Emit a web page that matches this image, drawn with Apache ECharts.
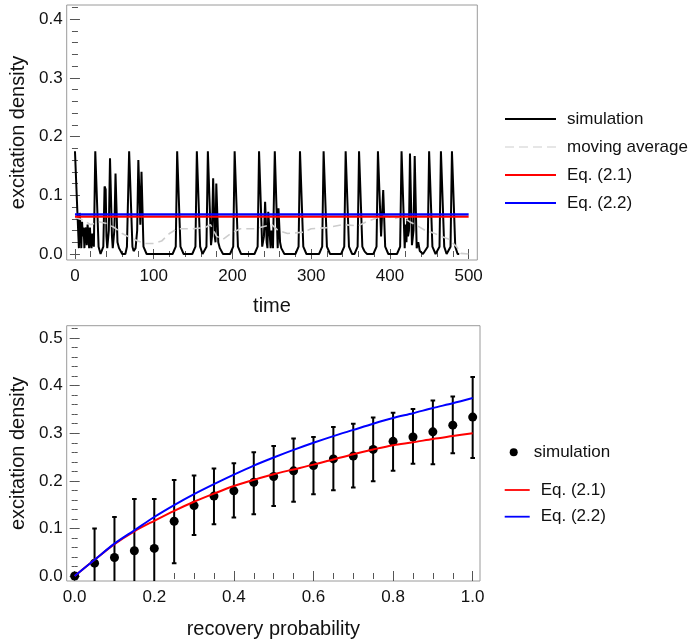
<!DOCTYPE html>
<html>
<head>
<meta charset="utf-8">
<script src="https://cdn.jsdelivr.net/npm/echarts@6/dist/echarts.min.js"></script>
<style>
  body { margin: 0; background: #fff; }
  #main { width: 693px; height: 640px; }
</style>
</head>
<body>
<div id="main"></div>
<script>
// ---- top chart: excitation density over time ----
// simulation trace, [time, density]
var simTrace = [
  [0,0.175],[1.8,0.175],[2.8,0.08],[4,0.08],[5,0.01],[6,0.07],[7,0.045],[8,0.01],[9,0.055],[10,0.03],
  [11,0.045],[12,0.01],[13,0.04],[14,0.045],[15,0.015],[16,0.05],[17,0.035],[18,0.01],[19,0.045],
  [20,0.02],[21,0.01],[22,0.035],[23,0.02],[24,0.0125],[25.8,0.175],[28.2,0.175],[30,0.0125],[32.5,0],[34,0],
  [36,0.0125],[37.6,0.115],[39,0.11],[40,0.03],[41,0.01],[43,0.04],[44.5,0.163],[45.5,0.163],[47,0.03],[48,0.01],
  [50,0.04],[51.5,0.137],[52.5,0.137],[54,0.02],[56,0.01],[60,0],[64,0],
  [66,0.0125],[68.8,0.175],[71.2,0.175],[73,0.0125],[74.5,0.005],[77,0.01],[79,0.04],[80.5,0.16],[81.5,0.16],[83,0.05],[84.5,0.14],[85.5,0.14],
  [87,0.0125],[91,0],
  [124,0],[128,0.0125],[129.8,0.175],[132.2,0.175],[134,0.0125],[138,0],
  [149,0],[153,0.0125],[154.8,0.175],[157.2,0.175],[159,0.0125],[162,0],[164,0],
  [167,0.0125],[168.8,0.175],[171.2,0.175],[172.8,0.015],
  [174,0.03],[175.5,0.129],[176.5,0.129],[177.5,0.03],[178.5,0.02],[179.5,0.12],[180.5,0.12],[182,0.02],[184,0.01],[188,0],
  [197,0],[201,0.0125],[202.8,0.175],[205.2,0.175],[207,0.0125],[211,0],
  [228,0],[232,0.0125],[233.8,0.175],[236.2,0.175],[237.8,0.0125],[238.8,0.01],[240,0.03],[241.5,0.089],[242.5,0.089],[243.5,0.02],
  [244.5,0.01],[245.5,0.072],[246.5,0.072],[247.5,0.03],[248.5,0.01],[249.5,0.04],[250.5,0.03],[251.5,0.01],[252.5,0.0125],
  [253.8,0.175],[256.2,0.175],[257.5,0.01],[258.5,0.078],[259.5,0.078],[260.5,0.02],[262,0.01],[266,0],
  [280,0],[284,0.0125],[285.8,0.175],[288.2,0.175],[290,0.0125],[294,0],
  [310,0],[314,0.0125],[315.8,0.175],[318.2,0.175],[320,0.0125],[324,0],
  [338,0],[342,0.0125],[343.8,0.175],[346.2,0.175],[348,0.0125],[352,0],
  [355,0],[359,0.0125],[360.8,0.175],[363.2,0.175],[365,0.0125],[366.5,0.008],[368,0.004],[371,0],
  [379,0],[383,0.0125],[384.8,0.175],[387.2,0.175],[388.8,0.03],[391.5,0.109],[392.5,0.109],[394,0.0125],[398,0],
  [409,0],[413,0.0125],[414.8,0.175],[417.2,0.175],[418.8,0.01],[420,0.05],[421,0.02],[422,0.06],[423,0.03],
  [424.2,0.04],[425.5,0.171],[426.5,0.171],[428,0.015],[430,0.04],[431.5,0.167],[432.5,0.167],[434,0.01],[436,0.02],[438,0.005],[442,0],
  [444,0],[448,0.0125],[449.8,0.175],[452.2,0.175],[454,0.0125],[458,0],
  [459,0],[463,0.0125],[464.8,0.175],[467.2,0.175],[469,0.0125],[472,0],
  [473,0],[477,0.0125],[478.8,0.175],[481.2,0.175],[483,0.0125],[486,0],[488,0]
];
// moving average, [time, density]
var movingAvg = [
  [0,0.062],[10,0.058],[20,0.05],[30,0.055],[40,0.052],[50,0.045],[60,0.035],[70,0.028],
  [80,0.022],[90,0.018],[100,0.018],[110,0.022],[120,0.035],[130,0.043],[150,0.043],[165,0.045],
  [172,0.05],[180,0.03],[188,0.025],[198,0.035],[210,0.043],[230,0.043],[240,0.047],[250,0.05],
  [258,0.04],[270,0.035],[290,0.037],[300,0.043],[320,0.045],[340,0.05],[360,0.048],[370,0.055],
  [385,0.062],[395,0.066],[405,0.06],[415,0.064],[425,0.055],[435,0.048],[445,0.04],[455,0.036],
  [465,0.03],[475,0.025],[485,0.012],[490,0.001],[500,0]
];
var timeSpan = [0, 500];
var eq21Level = 0.0635;
var eq22Level = 0.0675;
var timeTicks = [0, 100, 200, 300, 400, 500];
var densityTicksTop = [0, 0.1, 0.2, 0.3, 0.4];

// ---- bottom chart: excitation density vs recovery probability ----
var probs   = [0,0.05,0.1,0.15,0.2,0.25,0.3,0.35,0.4,0.45,0.5,0.55,0.6,0.65,0.7,0.75,0.8,0.85,0.9,0.95,1.0];
var simMean = [0,0.027,0.039,0.053,0.058,0.115,0.148,0.168,0.179,0.197,0.209,0.221,0.232,0.246,0.252,0.266,0.283,0.292,0.303,0.317,0.334];
var simLow  = [0,-0.046,-0.046,-0.056,-0.046,0.027,0.086,0.109,0.123,0.130,0.147,0.156,0.172,0.180,0.186,0.199,0.221,0.236,0.235,0.258,0.248];
var simHigh = [0,0.100,0.124,0.162,0.162,0.202,0.211,0.226,0.237,0.260,0.273,0.289,0.292,0.313,0.320,0.333,0.343,0.351,0.369,0.377,0.418];
var eq21    = [0,0.034,0.067,0.094,0.116,0.137,0.156,0.173,0.189,0.202,0.214,0.224,0.234,0.245,0.256,0.266,0.275,0.281,0.288,0.294,0.300];
var eq22    = [0,0.034,0.068,0.096,0.124,0.149,0.172,0.193,0.213,0.232,0.249,0.265,0.280,0.294,0.307,0.320,0.332,0.342,0.353,0.363,0.374];
var probTicks = [0, 0.2, 0.4, 0.6, 0.8, 1.0];
var densityTicksBottom = [0, 0.1, 0.2, 0.3, 0.4, 0.5];

var FONT = 'Liberation Sans, Arial, sans-serif';
var TICK = '#555';
var DASH_ICON = 'path://M0,0h9v1h-9zM14,0h9v1h-9zM28,0h9v1h-9zM42,0h9v1h-9z';

// minor tick positions between the majors
function minorList(min, max, step) {
  var out = [];
  var start = Math.ceil(min / step);
  for (var k = start; k * step <= max; k++) out.push(+(k * step).toFixed(6));
  return out;
}

// 4 axes per direction: labelled major, minor, mirrored major, mirrored minor
function frameAxes(grid, min, max, majors, minors, sides, fmt, name, nameGap, rot) {
  var base = function (side, values, len, labels) {
    var ax = {
      type: 'value', gridIndex: grid, min: min, max: max, position: side,
      axisLine: { show: false }, splitLine: { show: false },
      axisTick: { show: true, inside: true, length: len, customValues: values, lineStyle: { color: TICK, width: 1 } },
      axisLabel: { show: false }
    };
    if (labels) {
      ax.axisLabel = {
        show: true, customValues: values, formatter: fmt,
        fontSize: 17, color: '#111', fontFamily: FONT, margin: sides[0] == 'left' ? 4 : 8
      };
      ax.name = name;
      ax.nameLocation = 'middle';
      ax.nameGap = nameGap;
      ax.nameRotate = rot;
      ax.nameTextStyle = { fontSize: 20, color: '#111', fontFamily: FONT };
    }
    return ax;
  };
  return [
    base(sides[0], majors, 5, true),
    base(sides[0], minors, 3, false),
    base(sides[1], majors, 5, false),
    base(sides[1], minors, 3, false)
  ];
}

var fmt1 = function (v) { return v.toFixed(1); };
var fmt0 = function (v) { return String(Math.round(v)); };

var xMinT = -10.5, xMaxT = 511, yMinT = -0.0102, yMaxT = 0.424;
var xMinB = -0.02, xMaxB = 1.0184, yMinB = -0.0105, yMaxB = 0.526;

var xAxes = frameAxes(0, xMinT, xMaxT, timeTicks, minorList(xMinT, xMaxT, 20), ['bottom', 'top'], fmt0, 'time', 36, 0)
  .concat(frameAxes(1, xMinB, xMaxB, probTicks, minorList(xMinB, xMaxB, 0.05), ['bottom', 'top'], fmt1, 'recovery probability', 38, 0));
var yAxes = frameAxes(0, yMinT, yMaxT, densityTicksTop, minorList(yMinT, yMaxT, 0.02), ['left', 'right'], fmt1, 'excitation density', 38, 90)
  .concat(frameAxes(1, yMinB, yMaxB, densityTicksBottom, minorList(yMinB, yMaxB, 0.02), ['left', 'right'], fmt1, 'excitation density', 38, 90));

// names shown in legends
var legendText = {
  simT: 'simulation', avgT: 'moving average', eq21T: 'Eq. (2.1)', eq22T: 'Eq. (2.2)',
  simB: 'simulation', eq21B: 'Eq. (2.1)', eq22B: 'Eq. (2.2)'
};
function legendFmt(name) { return legendText[name]; }

var errData = [];
for (var i = 0; i < probs.length; i++) {
  if (simHigh[i] > simLow[i]) errData.push([probs[i], simLow[i], simHigh[i]]);
}

var myChart = echarts.init(document.getElementById('main'), null, { renderer: 'canvas' });
myChart.setOption({
  animation: false,
  backgroundColor: '#fff',
  grid: [
    { left: 66.7, top: 5, width: 410.6, height: 255, show: true, borderColor: '#9a9a9a', borderWidth: 1, backgroundColor: 'transparent' },
    { left: 66.7, top: 325.7, width: 413.3, height: 255.3, show: true, borderColor: '#9a9a9a', borderWidth: 1, backgroundColor: 'transparent' }
  ],
  xAxis: xAxes,
  yAxis: yAxes,
  legend: [
    {
      orient: 'vertical', left: 505, top: 109, padding: 0, itemGap: 8,
      itemWidth: 51, itemHeight: 1.8, formatter: legendFmt,
      itemStyle: { borderWidth: 0 },
      data: [
        { name: 'simT', icon: 'rect' },
        { name: 'avgT', icon: DASH_ICON },
        { name: 'eq21T', icon: 'rect' },
        { name: 'eq22T', icon: 'rect' }
      ],
      textStyle: { fontSize: 17, lineHeight: 20, color: '#111', fontFamily: FONT, padding: [0, 0, 0, 6] }
    },
    {
      orient: 'vertical', left: 509.7, top: 442.3, padding: 0,
      itemWidth: 8, itemHeight: 8, formatter: legendFmt,
      itemStyle: { borderWidth: 0 },
      data: [{ name: 'simB', icon: 'circle' }],
      textStyle: { fontSize: 17, lineHeight: 20, color: '#111', fontFamily: FONT, padding: [0, 0, 0, 11] }
    },
    {
      orient: 'vertical', left: 504.7, top: 480, padding: 0, itemGap: 6.7,
      itemWidth: 25, itemHeight: 1.8, formatter: legendFmt,
      itemStyle: { borderWidth: 0 },
      data: [{ name: 'eq21B', icon: 'rect' }, { name: 'eq22B', icon: 'rect' }],
      textStyle: { fontSize: 17, lineHeight: 20, color: '#111', fontFamily: FONT, padding: [0, 0, 0, 6] }
    }
  ],
  series: [
    {
      name: 'simT', type: 'line', xAxisIndex: 0, yAxisIndex: 0, symbol: 'none',
      data: simTrace, lineStyle: { color: '#000', width: 2 }, itemStyle: { color: '#000' }
    },
    {
      name: 'avgT', type: 'line', xAxisIndex: 0, yAxisIndex: 0, symbol: 'none',
      data: movingAvg, lineStyle: { color: '#cdcdcd', width: 1.6, type: [8, 5] }, itemStyle: { color: '#cdcdcd' }
    },
    {
      name: 'eq21T', type: 'line', xAxisIndex: 0, yAxisIndex: 0, symbol: 'none',
      data: [[timeSpan[0], eq21Level], [timeSpan[1], eq21Level]],
      lineStyle: { color: '#ff0000', width: 2.2 }, itemStyle: { color: '#ff0000' }
    },
    {
      name: 'eq22T', type: 'line', xAxisIndex: 0, yAxisIndex: 0, symbol: 'none',
      data: [[timeSpan[0], eq22Level], [timeSpan[1], eq22Level]],
      lineStyle: { color: '#0000ff', width: 2.4 }, itemStyle: { color: '#0000ff' }
    },
    {
      name: 'eq21B', type: 'line', xAxisIndex: 4, yAxisIndex: 4, symbol: 'none', smooth: 0.3,
      data: probs.map(function (p, i) { return [p, eq21[i]]; }),
      lineStyle: { color: '#ff0000', width: 2 }, itemStyle: { color: '#ff0000' }
    },
    {
      name: 'eq22B', type: 'line', xAxisIndex: 4, yAxisIndex: 4, symbol: 'none', smooth: 0.3,
      data: probs.map(function (p, i) { return [p, eq22[i]]; }),
      lineStyle: { color: '#0000ff', width: 2 }, itemStyle: { color: '#0000ff' }
    },
    {
      name: 'errB', type: 'custom', xAxisIndex: 4, yAxisIndex: 4, clip: true,
      data: errData,
      renderItem: function (params, api) {
        var lo = api.coord([api.value(0), api.value(1)]);
        var hi = api.coord([api.value(0), api.value(2)]);
        var cap = 2.3;
        var st = { stroke: '#000', lineWidth: 2 };
        return {
          type: 'group',
          children: [
            { type: 'line', shape: { x1: lo[0], y1: lo[1], x2: hi[0], y2: hi[1] }, style: st },
            { type: 'line', shape: { x1: hi[0] - cap, y1: hi[1], x2: hi[0] + cap, y2: hi[1] }, style: st },
            { type: 'line', shape: { x1: lo[0] - cap, y1: lo[1], x2: lo[0] + cap, y2: lo[1] }, style: st }
          ]
        };
      }
    },
    {
      name: 'simB', type: 'scatter', xAxisIndex: 4, yAxisIndex: 4, symbol: 'circle', symbolSize: 9,
      data: probs.map(function (p, i) { return [p, simMean[i]]; }),
      itemStyle: { color: '#000', opacity: 1 }
    }
  ]
});
</script>
</body>
</html>
